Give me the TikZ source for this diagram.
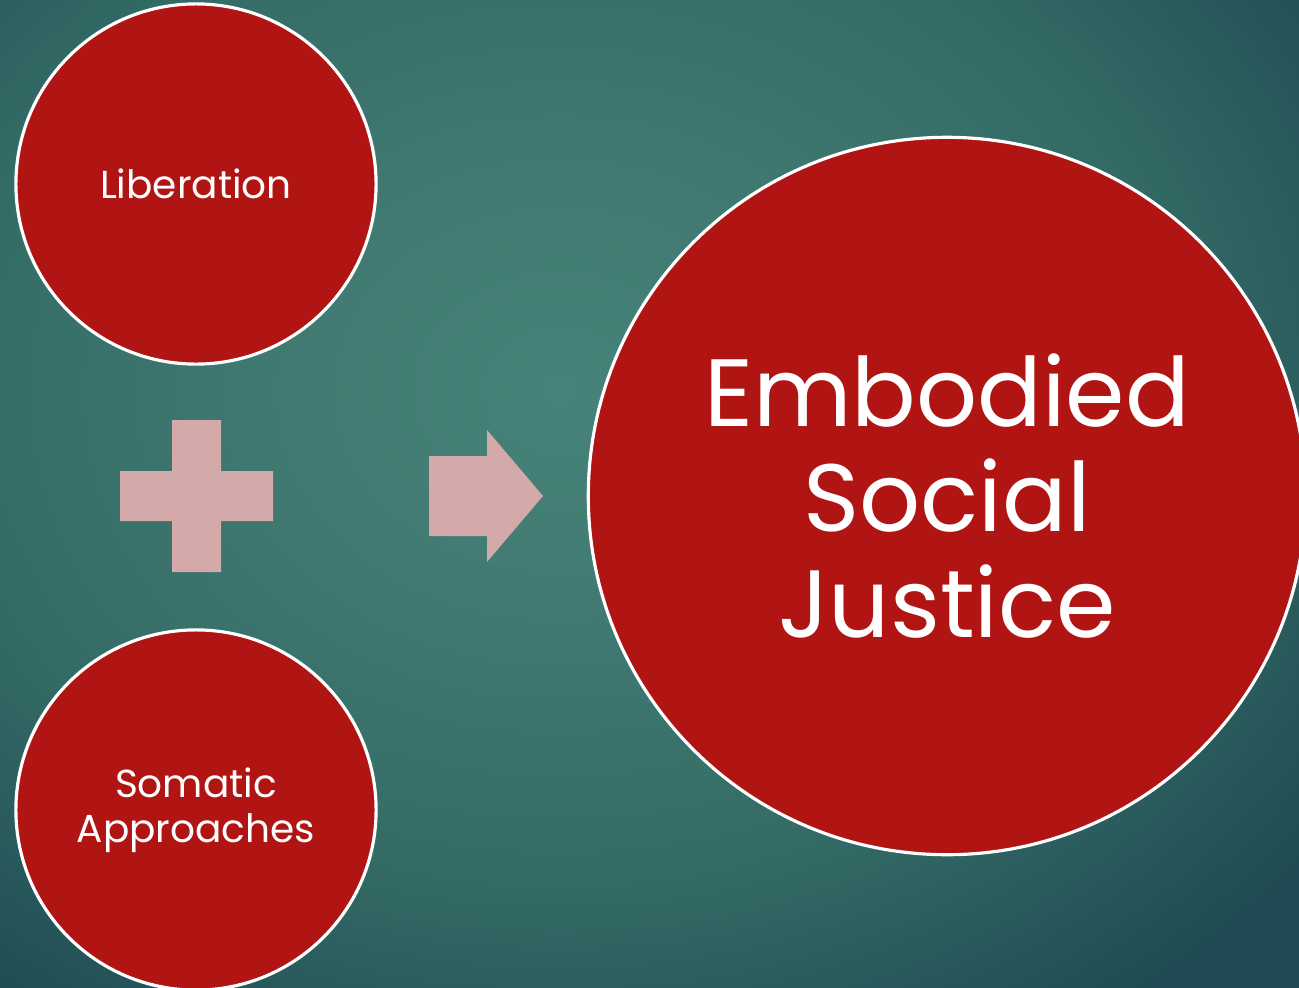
\documentclass[tikz,border=0pt]{standalone}
\usepackage{fontspec}
\setmainfont{Poppins}
\usetikzlibrary{positioning}
\definecolor{TealHi}{HTML}{47837A}
\definecolor{TealMid}{HTML}{3F7870}
\definecolor{TealDim}{HTML}{336A65}
\definecolor{TealLo}{HTML}{1F4A53}
\definecolor{JusticeRed}{HTML}{B01513}
\definecolor{SignPink}{HTML}{D4A9A9}
\pgfdeclareradialshading{tealglow}{\pgfpoint{0bp}{0bp}}{color(0bp)=(TealHi); color(11bp)=(TealMid); color(21bp)=(TealDim); color(32bp)=(TealLo); color(50bp)=(TealLo)}
\tikzset{
	bubble/.style={circle,draw=white,line width=0.9pt,fill=JusticeRed,text=white,inner sep=0pt,align=center},
	small/.style={bubble,minimum size=3.6cm,font=\fontsize{11.1}{12.7}\selectfont},
	big/.style={bubble,minimum size=7.17cm,font=\fontsize{27.2}{29.9}\selectfont},
	sign/.style={fill=SignPink,draw=none}
}

\begin{document}
\begin{tikzpicture}[x=0.01cm,y=-0.01cm]
		\useasboundingbox (0,0) rectangle (1299,987);
		\clip (0,0) rectangle (1299,987);
		\shade[shading=tealglow] (-180,-207) rectangle (1300,987);
		\node[small] (lib) at (196,184) {Liberation};
		\node[small] (som) at (196,810) {Somatic\\Approaches};
		\node[big] (esj) at (947,496) {Embodied\\Social\\Justice};
		% plus sign
		\fill[sign] (172,420) -- (221,420) -- (221,471) -- (273,471) -- (273,521) -- (221,521) -- (221,572) -- (172,572) -- (172,521) -- (120,521) -- (120,471) -- (172,471) -- cycle;
		% block arrow
		\fill[sign] (429,456) -- (487,456) -- (487,430) -- (543,496) -- (487,562) -- (487,536) -- (429,536) -- cycle;
\end{tikzpicture}
\end{document}
